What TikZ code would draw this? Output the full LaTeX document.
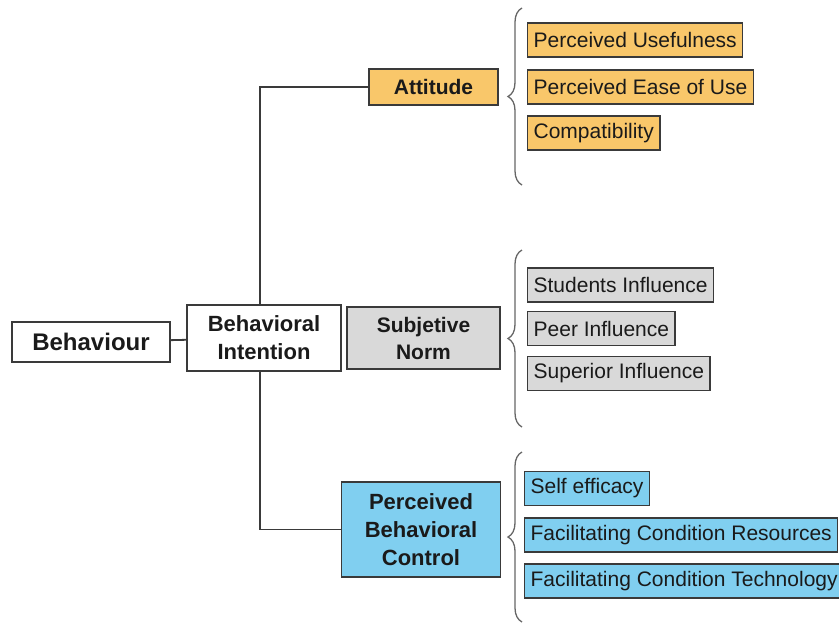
\documentclass[tikz,border=0pt]{standalone}
\usepackage{fontspec}
\setmainfont{Liberation Sans}
\usetikzlibrary{decorations.pathreplacing}
\definecolor{attorange}{HTML}{F9C76A}
\definecolor{normgray}{HTML}{D9D9D9}
\definecolor{pbcblue}{HTML}{80CFF0}
\definecolor{edgegray}{HTML}{3A3A3A}
\definecolor{inkgray}{HTML}{1A1A1A}
\tikzset{
  box/.style={draw=edgegray, line width=1.4pt, inner sep=0pt, align=center,
    text=inkgray, font=\bfseries\fontsize{22}{28}\selectfont},
  item/.style={draw=edgegray, line width=1.3pt, inner xsep=6pt, inner ysep=0pt,
    minimum height=34pt, anchor=west, text=inkgray,
    font=\fontsize{21}{26}\selectfont},
  link/.style={edgegray, line width=1.8pt},
  curly/.style={draw=black!60, line width=1.3pt,
    decorate, decoration={brace, amplitude=14pt}}
}
\begin{document}
\begin{tikzpicture}[x=1pt, y=-1pt]
      \useasboundingbox (0,0) rectangle (839,625);
      \node[box, fill=white, minimum width=158pt, minimum height=40pt,
        font=\bfseries\fontsize{24}{28}\selectfont] (behav) at (91,342) {Behaviour};
      \node[box, fill=white, minimum width=154pt, minimum height=66pt] (intent) at (264,338) {Behavioral\\Intention};
      \node[box, fill=attorange, minimum width=129pt, minimum height=36pt,
        font=\bfseries\fontsize{21}{26}\selectfont] (att) at (433.5,87) {Attitude};
      \node[box, fill=normgray, minimum width=153pt, minimum height=62pt,
        font=\bfseries\fontsize{21}{27}\selectfont] (norm) at (423.5,338) {Subjetive\\Norm};
      \node[box, fill=pbcblue, minimum width=159pt, minimum height=95pt] (pbc) at (421,529.5) {Perceived\\Behavioral\\Control};
      % attitude items
      \node[item, fill=attorange] (useful) at (527,40) {Perceived Usefulness};
      \node[item, fill=attorange] (ease) at (527,87) {Perceived Ease of Use};
      \node[item, fill=attorange] (compat) at (527,133) {Compatibility};
      % norm items
      \node[item, fill=normgray] (students) at (527,285) {Students Influence};
      \node[item, fill=normgray] (peer) at (527,328.5) {Peer Influence};
      \node[item, fill=normgray] (superior) at (527,373.5) {Superior Influence};
      % control items
      \node[item, fill=pbcblue] (efficacy) at (524,488.5) {Self efficacy};
      \node[item, fill=pbcblue] (resources) at (524,535) {Facilitating Condition Resources};
      \node[item, fill=pbcblue] (techno) at (524,581) {Facilitating Condition Technology};
      % brace ends
      \coordinate (attlow) at (522,185);
      \coordinate (atthigh) at (522,8);
      \coordinate (normlow) at (522,427);
      \coordinate (normhigh) at (522,250);
      \coordinate (pbclow) at (522,622);
      \coordinate (pbchigh) at (522,452);
      \begin{scope}[-]
        \draw[link] (behav) to (intent);
        \draw[link] ([xshift=-4pt]intent.north) |- (att.west);
        \draw[link] ([xshift=-4pt]intent.south) |- (pbc.west);
        \draw[curly] (attlow) to (atthigh);
        \draw[curly] (normlow) to (normhigh);
        \draw[curly] (pbclow) to (pbchigh);
      \end{scope}
    \end{tikzpicture}
\end{document}
